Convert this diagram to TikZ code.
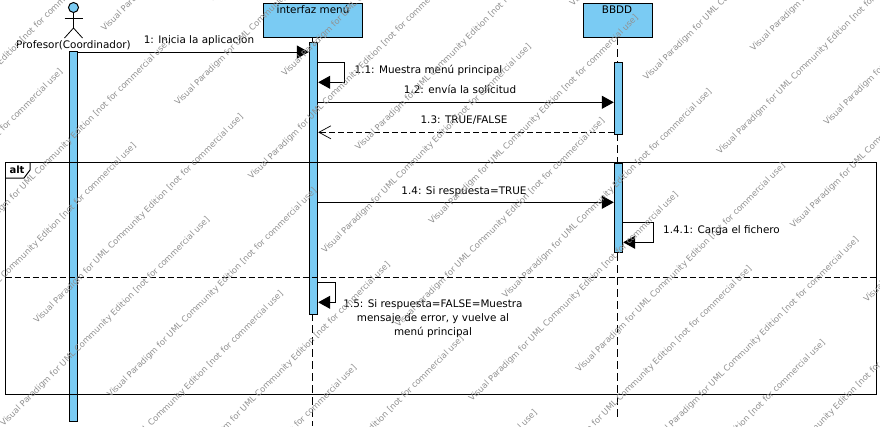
\documentclass[tikz,border=0pt]{standalone}
\usepackage{fontspec}
\setmainfont{DejaVu Sans}
\usepackage{xcolor}
\usetikzlibrary{arrows.meta,positioning,calc}

\definecolor{vpblue}{RGB}{122,203,243}
\definecolor{vpmark}{RGB}{145,145,145}

\tikzset{
  lifebox/.style={draw, fill=vpblue, line width=1pt, minimum height=34.5pt, inner sep=0pt, anchor=north},
  activ/.style={draw, fill=vpblue, line width=1pt, minimum width=8.4pt, inner sep=0pt, anchor=north},
  lifeline/.style={line width=1pt, dash pattern=on 8pt off 4pt},
  call/.style={line width=1pt, -{Triangle[length=12pt,width=13pt]}},
  reply/.style={line width=0.8pt, dash pattern=on 6pt off 3pt, -{Straight Barb[length=12pt,width=13pt,line width=0.7pt]}},
  msg/.style={font=\fontsize{10.4}{14.3}\selectfont, inner sep=0pt, align=center},
  vpmarktext/.style={font=\fontsize{8.4}{10}\selectfont, text=vpmark, inner sep=0pt, rotate=45, anchor=base west}
}

\begin{document}
\begin{tikzpicture}[x=1pt, y=-1pt, line join=miter]

\useasboundingbox (0,0) rectangle (880,426);
\fill[white] (0,0) rectangle (880,426);

% message heights
\coordinate (Y1)  at (0,52);
\coordinate (Y11a) at (0,62.3);
\coordinate (Y11b) at (0,82.3);
\coordinate (Y12) at (0,102.3);
\coordinate (Y13) at (0,132.3);
\coordinate (Y14) at (0,202.3);
\coordinate (Y141a) at (0,222.3);
\coordinate (Y141b) at (0,242.3);
\coordinate (Y15a) at (0,282.3);
\coordinate (Y15b) at (0,302.3);

% lifelines
\node[lifebox, minimum width=98.5pt] (Menu) at (313,2.5) {};
\node[lifebox, minimum width=69pt]   (BBDD) at (618,2.5) {};
\node[msg, anchor=base] (MenuText) at (313,13) {interfaz menú};
\node[msg, anchor=base] (BBDDText) at (617,13) {BBDD};

\coordinate (MenuEnd) at (312.7,426);
\coordinate (BBDDEnd) at (617.3,420);
\draw[lifeline] (312.7,37) -- (MenuEnd);
\draw[lifeline] (617.3,37) -- (BBDDEnd);

% actor
\node[draw, circle, fill=vpblue, line width=1pt, minimum size=10pt, inner sep=0pt] (Head) at (73.5,7.5) {};
\coordinate (Hip) at (73.5,28);
\coordinate (ArmL) at (64.5,18);
\coordinate (ArmR) at (82.5,18);
\coordinate (LegL) at (64.5,38);
\coordinate (LegR) at (82.5,38);
\draw[line width=0.8pt] (Head) -- (Hip);
\draw[line width=0.8pt] (ArmL) -- (ArmR);
\draw[line width=0.8pt] (LegL) -- (Hip) -- (LegR);
\node[msg, anchor=base] (Actor) at (73.5,48) {Profesor(Coordinador)};

% activation bars
\node[activ, minimum height=370pt]   (ActorBar) at (73.5,51) {};
\node[activ, minimum height=272.3pt] (MenuBar)  at (313.5,42) {};
\node[activ, minimum height=71.5pt]  (BBDDBarA) at (618.5,62) {};
\node[activ, minimum height=89.8pt]  (BBDDBarB) at (618.5,162.5) {};

% alt frame
\coordinate (TabA) at (30,162.7);
\coordinate (TabB) at (30,170);
\coordinate (TabC) at (24,178);
\coordinate (TabD) at (5.7,178);
\draw[line width=1pt] (5.7,162.7) rectangle (876.7,394.3);
\draw[line width=1pt] (TabA) -- (TabB) -- (TabC) -- (TabD);
\draw[line width=0.9pt, dash pattern=on 6pt off 3pt] (5.7,277.5) -- (876.7,277.5);
\node[msg, anchor=base, font=\fontsize{10}{12}\bfseries\selectfont] (AltText) at (17,173.5) {alt};

% messages
\draw[call] (ActorBar.east |- Y1) -- (MenuBar.west |- Y1);
\node[msg, anchor=base] (M1) at (199,43) {1: Inicia la aplicacion};

\draw[call] (MenuBar.east |- Y11a) -- ++(25.8,0) |- (MenuBar.east |- Y11b);
\node[msg, anchor=base] (M11) at (428.5,73) {1.1: Muestra menú principal};

\draw[call] (MenuBar.east |- Y12) -- (BBDDBarA.west |- Y12);
\node[msg, anchor=base] (M12) at (460,93) {1.2: envía la solicitud};

\draw[reply] (BBDDBarA.west |- Y13) -- (MenuBar.east |- Y13);
\node[msg, anchor=base] (M13) at (464,123) {1.3: TRUE/FALSE};

\draw[call] (MenuBar.east |- Y14) -- (BBDDBarB.west |- Y14);
\node[msg, anchor=base] (M14) at (464,194) {1.4: Si respuesta=TRUE};

\draw[call] (BBDDBarB.east |- Y141a) -- ++(30.6,0) |- (BBDDBarB.east |- Y141b);
\node[msg, anchor=base] (M141) at (721.5,233) {1.4.1: Carga el fichero};

\draw[call] (MenuBar.east |- Y15a) -- ++(17.6,0) |- (MenuBar.east |- Y15b);
\node[msg, anchor=north] (M15) at (433,299) {1.5: Si respuesta=FALSE=Muestra\\mensaje de error, y vuelve al\\menú principal};

% watermark
\begin{scope}
\clip (0,0) rectangle (880,426);
\foreach \fx/\fy in {573/7,285/77}
\foreach \i in {-3,...,8}
  \foreach \k in {-1,...,2} {
    \pgfmathsetmacro\mx{\fx+73.5*\i-248*\k}
    \pgfmathsetmacro\my{\fy+74*\i+247*\k}
    \pgfmathtruncatemacro\onpage{(\mx<880)*(\mx>-242)*(\my>0)*(\my<668)*(\mx+\my>0)*(\mx+\my<1306)}
    \ifnum\onpage=1
      \node[vpmarktext] (Mark\fx\i\k) at (\mx,\my) {Visual Paradigm for UML Community Edition [not for commercial use]};
    \fi
  }
\end{scope}

\end{tikzpicture}
\end{document}
